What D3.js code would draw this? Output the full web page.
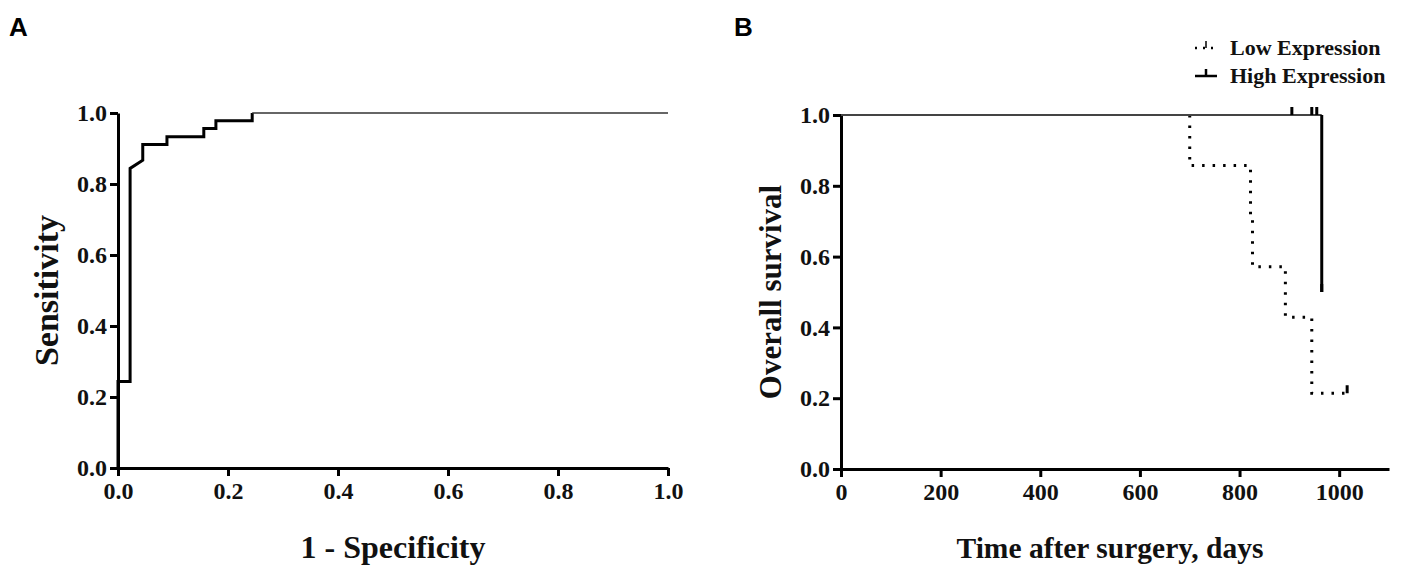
<!DOCTYPE html>
<html>
<head>
<meta charset="utf-8">
<script src="https://cdn.jsdelivr.net/npm/d3@7"></script>
<style>
  body { margin: 0; background: #fff; }
  .axis path, .axis line { stroke: #000; stroke-width: 3; }
  .axis text { font-family: "Liberation Serif", serif; font-weight: bold; font-size: 24px; fill: #111; }
  .title { font-family: "Liberation Serif", serif; font-weight: bold; fill: #111; }
  .panel { font-family: "Liberation Sans", Arial, sans-serif; font-weight: bold; font-size: 26px; }
</style>
</head>
<body>
<svg id="chart" width="1405" height="572"></svg>
<script>
// Panel A: ROC curve
const rocFpr = [0, 0, 0.022, 0.022, 0.045, 0.045, 0.089, 0.089, 0.156, 0.156, 0.178, 0.178, 0.244, 0.244, 1.0];
const rocTpr = [0, 0.244, 0.244, 0.844, 0.867, 0.911, 0.911, 0.933, 0.933, 0.956, 0.956, 0.978, 0.978, 1.0, 1.0];
const rocTicks = [0, 0.2, 0.4, 0.6, 0.8, 1.0];

// Panel B: Kaplan-Meier
const lowDays = [0, 700, 822, 826, 892, 945, 1016];
const lowSurv = [1, 0.857, 0.714, 0.571, 0.429, 0.214, 0.214];
const lowCensorDays = [1016];
const lowCensorSurv = [0.214];
const highDays = [0, 965];
const highSurv = [1, 0.5];
const highCensorDays = [905, 945, 955, 965];
const highCensorSurv = [1, 1, 1, 0.5];
const survTicks = [0, 0.2, 0.4, 0.6, 0.8, 1.0];
const dayTicks = [0, 200, 400, 600, 800, 1000];
const legendLabels = ["Low Expression", "High Expression"];

const svg = d3.select("#chart");

// ---------- A ----------
const xA = d3.scaleLinear().domain([0, 1]).range([118, 668]);
const yA = d3.scaleLinear().domain([0, 1]).range([468, 113]);

svg.append("text").attr("class", "panel").attr("x", 9).attr("y", 36).text("A");

svg.append("g")
  .attr("class", "axis")
  .attr("transform", `translate(0, ${yA(0)})`)
  .call(d3.axisBottom(xA).tickValues(rocTicks).tickFormat(d3.format(".1f")).tickSize(8).tickSizeOuter(0).tickPadding(6));

svg.append("g")
  .attr("class", "axis")
  .attr("transform", `translate(${xA(0)}, 0)`)
  .call(d3.axisLeft(yA).tickValues(rocTicks).tickFormat(d3.format(".1f")).tickSize(8).tickSizeOuter(0).tickPadding(3));

const roc = rocFpr.map((x, i) => ({ x, y: rocTpr[i] }));
const rocLine = d3.line().x((d) => xA(d.x)).y((d) => yA(d.y));

// step part thick, the flat tail at 1.0 thinner
svg.append("path")
  .datum(roc.slice(0, 14))
  .attr("d", rocLine)
  .attr("fill", "none")
  .attr("stroke", "#000")
  .attr("stroke-width", 3);

svg.append("path")
  .datum(roc.slice(13))
  .attr("d", rocLine)
  .attr("fill", "none")
  .attr("stroke", "#333")
  .attr("stroke-width", 1.6);

svg.append("text")
  .attr("class", "title")
  .attr("transform", `translate(58, ${(yA(0) + yA(1)) / 2}) rotate(-90)`)
  .attr("text-anchor", "middle")
  .attr("font-size", 34)
  .text("Sensitivity");

svg.append("text")
  .attr("class", "title")
  .attr("x", (xA(0) + xA(1)) / 2)
  .attr("y", 558)
  .attr("text-anchor", "middle")
  .attr("font-size", 32)
  .text("1 - Specificity");

// ---------- B ----------
const xB = d3.scaleLinear().domain([0, 1100]).range([841, 1389]);
const yB = d3.scaleLinear().domain([0, 1]).range([469, 115]);

svg.append("text").attr("class", "panel").attr("x", 734).attr("y", 36).text("B");

svg.append("g")
  .attr("class", "axis")
  .attr("transform", `translate(0, ${yB(0)})`)
  .call(d3.axisBottom(xB).tickValues(dayTicks).tickFormat(d3.format("d")).tickSize(8).tickSizeOuter(0).tickPadding(6));

svg.append("g")
  .attr("class", "axis")
  .attr("transform", `translate(${xB(0)}, 0)`)
  .call(d3.axisLeft(yB).tickValues(survTicks).tickFormat(d3.format(".1f")).tickSize(8).tickSizeOuter(0).tickPadding(3));

const kmLine = d3.line().curve(d3.curveStepAfter).x((d) => xB(d.t)).y((d) => yB(d.s));
const low = lowDays.map((t, i) => ({ t, s: lowSurv[i] }));
const high = highDays.map((t, i) => ({ t, s: highSurv[i] }));

// Low expression: dotted, drawn from its first event (before that it sits under the high line)
svg.append("path")
  .datum([{ t: low[1].t, s: low[0].s }].concat(low.slice(1)))
  .attr("d", kmLine)
  .attr("fill", "none")
  .attr("stroke", "#000")
  .attr("stroke-width", 3)
  .attr("stroke-dasharray", "2.5 8");

// High expression: thin flat part, thicker drop
svg.append("path")
  .datum([high[0], { t: high[1].t, s: high[0].s }])
  .attr("d", kmLine)
  .attr("fill", "none")
  .attr("stroke", "#444")
  .attr("stroke-width", 1.8);

svg.append("path")
  .datum([{ t: high[1].t, s: high[0].s }, high[1]])
  .attr("d", kmLine)
  .attr("fill", "none")
  .attr("stroke", "#000")
  .attr("stroke-width", 3);

// censor ticks
const censors = highCensorDays.map((t, i) => ({ t, s: highCensorSurv[i] }))
  .concat(lowCensorDays.map((t, i) => ({ t, s: lowCensorSurv[i] })));
svg.selectAll(".censor")
  .data(censors)
  .enter()
  .append("line")
  .attr("class", "censor")
  .attr("x1", (d) => xB(d.t))
  .attr("x2", (d) => xB(d.t))
  .attr("y1", (d) => yB(d.s))
  .attr("y2", (d) => yB(d.s) - 8)
  .attr("stroke", "#000")
  .attr("stroke-width", 3);

svg.append("text")
  .attr("class", "title")
  .attr("transform", `translate(781, ${(yB(0) + yB(1)) / 2}) rotate(-90)`)
  .attr("text-anchor", "middle")
  .attr("font-size", 31)
  .text("Overall survival");

svg.append("text")
  .attr("class", "title")
  .attr("x", 1110)
  .attr("y", 558)
  .attr("text-anchor", "middle")
  .attr("font-size", 29.5)
  .text("Time after surgery, days");

// legend
const legend = svg.append("g").attr("transform", "translate(1195, 48)");
legendLabels.forEach((label, i) => {
  const g = legend.append("g").attr("transform", `translate(0, ${i * 28})`);
  g.append("line")
    .attr("x1", 0).attr("x2", 22).attr("y1", 0).attr("y2", 0)
    .attr("stroke", "#000")
    .attr("stroke-width", 2.5)
    .attr("stroke-dasharray", i === 0 ? "2 6" : null);
  g.append("line")
    .attr("x1", 11).attr("x2", 11).attr("y1", 0).attr("y2", -7)
    .attr("stroke", "#000")
    .attr("stroke-width", i === 0 ? 1.5 : 2.5);
  g.append("text")
    .attr("class", "title")
    .attr("x", 35)
    .attr("y", 7)
    .attr("font-size", 22)
    .text(label);
});
</script>
</body>
</html>
